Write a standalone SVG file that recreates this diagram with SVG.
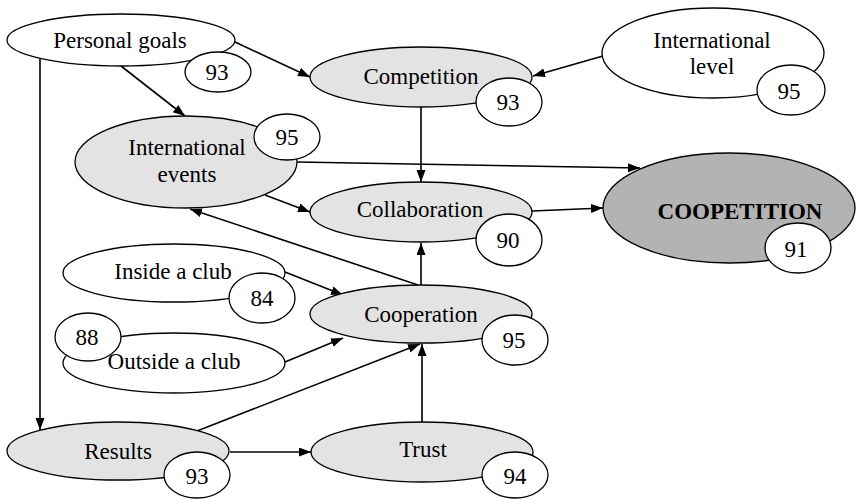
<svg xmlns="http://www.w3.org/2000/svg" width="856" height="499" viewBox="0 0 856 499">
<style>
text{font-family:"Liberation Serif","Times New Roman",serif;font-size:23px;fill:#000;text-anchor:middle}
.b{font-weight:bold}
.n{fill:#fff;stroke:#000;stroke-width:1.3}
.g{fill:#e3e3e3;stroke:#000;stroke-width:1.3}
.d{fill:#b3b3b3;stroke:#000;stroke-width:1.3}
.c line{stroke:#000;stroke-width:1.6;marker-end:url(#ah)}
</style>
<defs>
<marker id="ah" markerUnits="userSpaceOnUse" markerWidth="13" markerHeight="10" refX="12" refY="4.5" orient="auto">
<path d="M0,0 L12,4.5 L0,9 z" fill="#000"/>
</marker>
</defs>
<rect width="856" height="499" fill="#fff"/>
<g id="connectors" class="c">
<line x1="235" y1="42" x2="310" y2="77"/>
<line x1="121" y1="66" x2="185" y2="116"/>
<line x1="40" y1="58" x2="40" y2="430"/>
<line x1="603" y1="56" x2="533" y2="76"/>
<line x1="421" y1="107" x2="421" y2="182"/>
<line x1="297" y1="162" x2="640" y2="168"/>
<line x1="265" y1="195" x2="310" y2="212"/>
<line x1="418" y1="285" x2="190" y2="209"/>
<line x1="421" y1="285" x2="421" y2="243"/>
<line x1="532" y1="211" x2="603" y2="208"/>
<line x1="285" y1="272" x2="343" y2="295"/>
<line x1="285" y1="362" x2="343" y2="338"/>
<line x1="197" y1="431" x2="420" y2="344"/>
<line x1="230" y1="452" x2="311" y2="452"/>
<line x1="422" y1="422" x2="422" y2="344"/>
</g>
<g id="personal-goals">
<ellipse class="n" cx="121" cy="40" rx="114" ry="26"/>
<text x="120" y="48">Personal goals</text>
<ellipse class="n" cx="218" cy="72" rx="33" ry="20"/>
<text x="217" y="80">93</text>
</g>
<g id="competition">
<ellipse class="g" cx="421" cy="77" rx="111" ry="30"/>
<text x="421" y="84">Competition</text>
<ellipse class="n" cx="509" cy="102" rx="33" ry="24"/>
<text x="508" y="110">93</text>
</g>
<g id="international-level">
<ellipse class="n" cx="713" cy="53" rx="111" ry="45"/>
<text x="712" y="48">International</text>
<text x="712" y="74">level</text>
<ellipse class="n" cx="791" cy="90" rx="34" ry="25"/>
<text x="789" y="99">95</text>
</g>
<g id="international-events">
<ellipse class="g" cx="186" cy="162" rx="111" ry="46"/>
<text x="187" y="155">International</text>
<text x="187" y="182">events</text>
<ellipse class="n" cx="287" cy="137" rx="33" ry="23"/>
<text x="287" y="145">95</text>
</g>
<g id="collaboration">
<ellipse class="g" cx="421" cy="212" rx="111" ry="30"/>
<text x="420" y="217">Collaboration</text>
<ellipse class="n" cx="509" cy="240" rx="33" ry="26"/>
<text x="508" y="248">90</text>
</g>
<g id="coopetition">
<ellipse class="d" cx="729" cy="208" rx="126" ry="55"/>
<text class="b" x="740" y="219">COOPETITION</text>
<ellipse class="n" cx="798" cy="248" rx="33" ry="25"/>
<text x="796" y="257">91</text>
</g>
<g id="inside-club">
<ellipse class="n" cx="174" cy="273" rx="111" ry="29"/>
<text x="173" y="279">Inside a club</text>
<ellipse class="n" cx="262" cy="298" rx="33" ry="25"/>
<text x="262" y="306">84</text>
</g>
<g id="outside-club">
<ellipse class="n" cx="174" cy="363" rx="111" ry="30"/>
<text x="174" y="369">Outside a club</text>
<ellipse class="n" cx="88" cy="337" rx="33" ry="24"/>
<text x="87" y="345">88</text>
</g>
<g id="cooperation">
<ellipse class="g" cx="421" cy="314" rx="111" ry="29"/>
<text x="421" y="322">Cooperation</text>
<ellipse class="n" cx="515" cy="340" rx="33" ry="25"/>
<text x="514" y="348">95</text>
</g>
<g id="results">
<ellipse class="g" cx="118" cy="451" rx="111" ry="29"/>
<text x="118" y="459">Results</text>
<ellipse class="n" cx="197" cy="475" rx="33" ry="23"/>
<text x="197" y="484">93</text>
</g>
<g id="trust">
<ellipse class="g" cx="422" cy="452" rx="111" ry="30"/>
<text x="423" y="457">Trust</text>
<ellipse class="n" cx="515" cy="475" rx="33" ry="23"/>
<text x="515" y="484">94</text>
</g>
</svg>
